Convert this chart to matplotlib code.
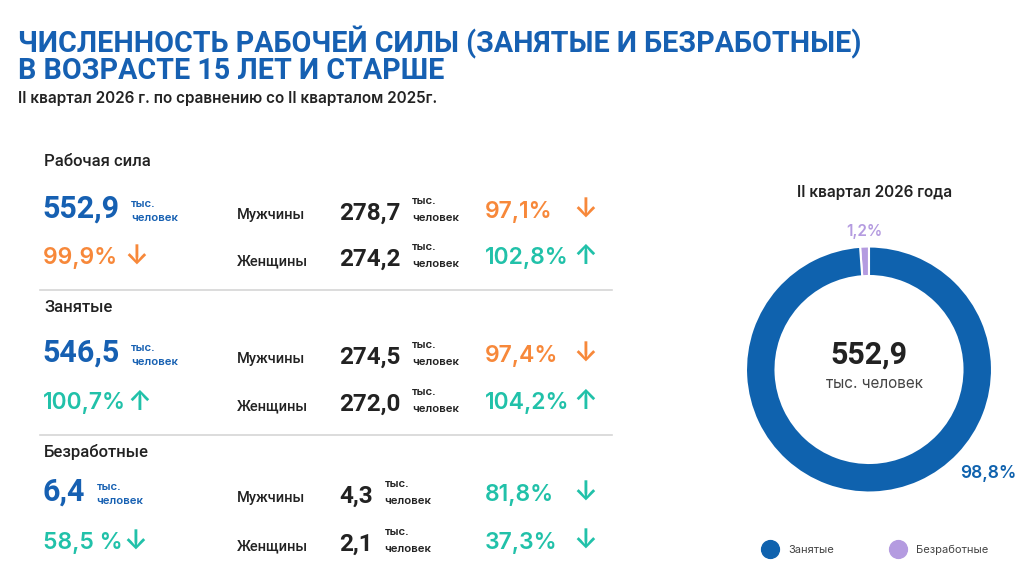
import numpy as np
import matplotlib.pyplot as plt

W, H = 1024, 576

sections = ['Рабочая сила', 'Занятые', 'Безработные']
totals = [552.9, 546.5, 6.4]
totals_pct = ['99,9% ', '100,7%', '58,5 %']
totals_dir = ['down', 'up', 'down']
totals_good = [False, True, True]

men = [278.7, 274.5, 4.3]
men_pct = ['97,1%', '97,4%', '81,8%']
men_dir = ['down', 'down', 'down']
men_good = [False, False, True]

women = [274.2, 272.0, 2.1]
women_pct = ['102,8%', '104,2%', '37,3%']
women_dir = ['up', 'up', 'down']
women_good = [True, True, True]

pie_labels = ['Безработные', 'Занятые']
pie_values = [6.4, 546.5]

BLUE = '#1660b2'
DONUT_BLUE = '#0f62ae'
ORANGE = '#f7883a'
TEAL = '#21c1a9'
PURPLE = '#b49be0'
DARK = '#222222'
GREY = '#444444'

ROBOTO = ['Roboto', 'DejaVu Sans']
INTER = ['Inter', 'DejaVu Sans']
plt.rcParams['font.family'] = ROBOTO

fig = plt.figure(figsize=(W / 100, H / 100), dpi=100)
ax = fig.add_axes([0, 0, 1, 1])
ax.set_xlim(0, W)
ax.set_ylim(H, 0)
ax.axis('off')
renderer = fig.canvas.get_renderer()


def txt(x, y, s, size, color, weight='normal', ha='left', family=ROBOTO):
    return ax.text(x, y, s, fontsize=size, color=color, fontweight=weight,
                   ha=ha, va='baseline', family=family)


def right_edge(t):
    return t.get_window_extent(renderer=renderer).x1


def fmt(v):
    return f'{v:.1f}'.replace('.', ',')


def units(t, y, color, up, down):
    x = right_edge(t) + 12
    txt(x, y - up, 'тыс.', 8.2, color, 'semibold', family=INTER)
    txt(x, y + down, 'человек', 8.2, color, 'semibold', family=INTER)


def arrow(d):
    return '↑' if d == 'up' else '↓'


# header
txt(18, 52, 'ЧИСЛЕННОСТЬ РАБОЧЕЙ СИЛЫ (ЗАНЯТЫЕ И БЕЗРАБОТНЫЕ)', 20.6, BLUE, 'bold')
txt(18, 79, 'В ВОЗРАСТЕ 15 ЛЕТ И СТАРШЕ', 20.6, BLUE, 'bold')
txt(18, 103, 'II квартал 2026 г. по сравнению со II кварталом 2025г.', 11, DARK,
    'semibold', family=INTER)

# table of sections
sec_y = [166, 312, 457]
row1_y = [218, 362, 501]
row2_y = [264, 409, 549]
sep_y = [290, 435]

for i, name in enumerate(sections):
    txt(44, sec_y[i], name, 12, DARK, 'medium')

    t = txt(42, row1_y[i], fmt(totals[i]), 22, BLUE, 'bold')
    units(t, row1_y[i], BLUE, 11, 3)

    col = TEAL if totals_good[i] else ORANGE
    t = txt(43, row2_y[i], totals_pct[i], 16.5, col, 'semibold', family=INTER)
    txt(right_edge(t) + 1, row2_y[i] + 1, arrow(totals_dir[i]), 19.5, col, 'semibold', family=INTER)

    for y, lab, val, pct, d, good in [
            (row1_y[i], 'Мужчины', men[i], men_pct[i], men_dir[i], men_good[i]),
            (row2_y[i], 'Женщины', women[i], women_pct[i], women_dir[i], women_good[i])]:
        txt(237, y + 1, lab, 10.5, DARK, 'medium')
        t = txt(339, y + 2, fmt(val), 17.5, DARK, 'bold')
        units(t, y + 2, DARK, 16, 1)
        col = TEAL if good else ORANGE
        txt(485, y, pct, 16.5, col, 'semibold', family=INTER)
        txt(585, y, arrow(d), 19.5, col, 'semibold', ha='center', family=INTER)

for y in sep_y:
    ax.plot([40, 612], [y, y], color='#d6d6d6', lw=1.2)

# donut
cx, cy, r = 869, 369.5, 123
pax = fig.add_axes([(cx - r) / W, (H - cy - r) / H, 2 * r / W, 2 * r / H])
pax.pie(pie_values, colors=[PURPLE, DONUT_BLUE], startangle=90, counterclock=True,
        radius=1, wedgeprops=dict(width=0.24, edgecolor='white', linewidth=1.5))
pax.set_xlim(-1, 1)
pax.set_ylim(-1, 1)
pax.set_aspect('equal')

total = sum(pie_values)
shares = [v / total * 100 for v in pie_values]

txt(875, 197, 'II квартал 2026 года', 11, DARK, 'semibold', ha='center', family=INTER)
txt(869, 364, fmt(total), 22, DARK, 'bold', ha='center')
txt(874, 388, 'тыс. человек', 11, GREY, ha='center', family=INTER)
txt(864, 236, fmt(shares[0]) + '%', 11, PURPLE, 'semibold', ha='center', family=INTER)
txt(960, 478, fmt(shares[1]) + '%', 12.5, DONUT_BLUE, 'semibold', family=INTER)

# legend
for x, lab, col in [(770, pie_labels[1], DONUT_BLUE), (898, pie_labels[0], PURPLE)]:
    ax.scatter([x], [549], s=165, color=col, zorder=3)
    txt(x + 18, 553, lab, 8, GREY, family=INTER)

fig.savefig('out.png', dpi=100)
